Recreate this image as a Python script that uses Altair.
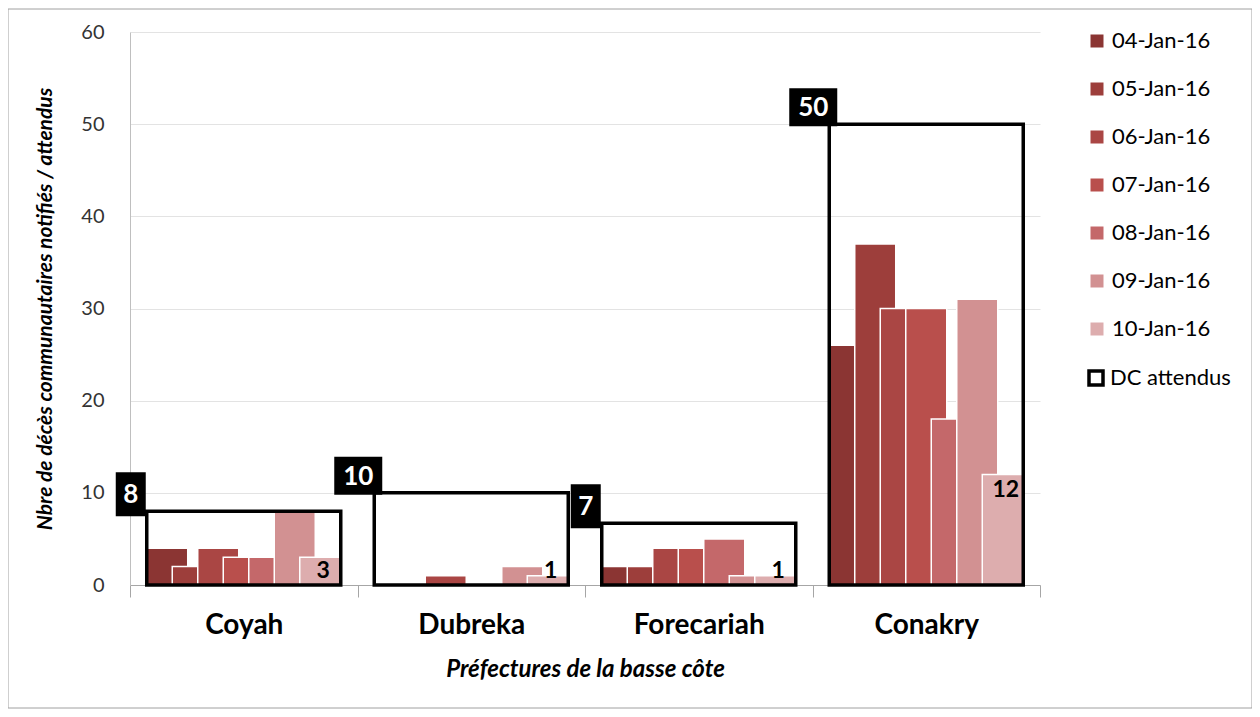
import altair as alt
import pandas as pd

categories = ["Coyah", "Dubreka", "Forecariah", "Conakry"]
dates = ["04-Jan-16", "05-Jan-16", "06-Jan-16", "07-Jan-16", "08-Jan-16", "09-Jan-16", "10-Jan-16"]
colors = ["#8B3533", "#9D3E3B", "#AA4644", "#B94F4C", "#C4686A", "#D29192", "#DDADAE"]

coyah = [4, 2, 4, 3, 3, 8, 3]
dubreka = [0, 0, 1, 0, 0, 2, 1]
forecariah = [2, 2, 4, 4, 5, 1, 1]
conakry = [26, 37, 30, 30, 18, 31, 12]
expected = [8, 10, 6.7, 50]
expected_labels = ["8", "10", "7", "50"]

series = [coyah, dubreka, forecariah, conakry]
rows = []
for cat, vals in zip(categories, series):
    for d, v in zip(dates, vals):
        rows.append({"cat": cat, "date": d, "value": v})
bars_df = pd.DataFrame(rows)
exp_df = pd.DataFrame({"cat": categories, "expected": expected,
                       "lab": expected_labels, "key": ["DC attendus"] * 4})

FONT = "Lato"
xscale = alt.Scale(domain=categories, paddingInner=0, paddingOuter=0)
yscale = alt.Scale(domain=[0, 60])
xoff = alt.XOffset("date:N", scale=alt.Scale(domain=dates, paddingInner=0, paddingOuter=0.96))

x_enc = alt.X("cat:N", scale=xscale, sort=categories,
              axis=alt.Axis(title="Préfectures de la basse côte", tickBand="extent",
                            labelAngle=0, labelFontSize=28, labelFontWeight="bold",
                            labelColor="#000000", labelPadding=14, tickSize=12,
                            tickColor="#a6a6a6", domainColor="#a6a6a6",
                            titleFontSize=24, titleFontStyle="italic", titleFontWeight="bold",
                            titleColor="#000000", titlePadding=18, grid=False))
y_enc = alt.Y("value:Q", scale=yscale,
              axis=alt.Axis(title="Nbre de décès communautaires notifiés / attendus",
                            values=[0, 10, 20, 30, 40, 50, 60], ticks=False,
                            labelFontSize=20, labelColor="#333333", labelPadding=26,
                            domainColor="#bfbfbf", gridColor="#e3e3e3",
                            titleFontSize=21, titleFontStyle="italic", titleFontWeight="bold",
                            titleColor="#000000", titlePadding=25))

frame = alt.Chart(pd.DataFrame({"a": [0]})).mark_rect(
    fill="transparent", stroke="#a0a0a0", strokeWidth=1
).encode(x=alt.value(-122), x2=alt.value(1122), y=alt.value(-23), y2=alt.value(676))

bars = alt.Chart(bars_df).mark_bar(width=41, stroke="white", strokeWidth=1.5).encode(
    x=x_enc,
    xOffset=xoff,
    y=y_enc,
    color=alt.Color("date:N", scale=alt.Scale(domain=dates, range=colors),
                    legend=alt.Legend(title=None, orient="none", legendX=956, legendY=-2,
                                      symbolType="square", symbolSize=169,
                                      symbolStrokeWidth=0, labelFontSize=22,
                                      labelColor="#000000", rowPadding=26,
                                      labelOffset=4)),
)

boxes = alt.Chart(exp_df).mark_bar(width=194, fill="transparent", strokeWidth=3.5).encode(
    x=alt.X("cat:N", scale=xscale, sort=categories),
    y=alt.Y("expected:Q", scale=yscale),
    stroke=alt.Stroke("key:N", scale=alt.Scale(domain=["DC attendus"], range=["black"]),
                      legend=alt.Legend(title=None, orient="none", legendX=955, legendY=335,
                                        symbolType="square", symbolSize=196,
                                        symbolStrokeWidth=3.5, symbolFillColor="white",
                                        labelFontSize=22, labelColor="#000000",
                                        labelOffset=3)),
)

tag_bg = alt.Chart(exp_df).transform_calculate(
    w="length(datum.lab) > 1 ? 'wide' : 'narrow'"
).mark_point(filled=True, color="black", size=1600, strokeWidth=0,
             xOffset=-113, yOffset=-17, opacity=1).encode(
    x=alt.X("cat:N", scale=xscale, sort=categories),
    y=alt.Y("expected:Q", scale=yscale),
    shape=alt.Shape("w:N", scale=alt.Scale(
        domain=["narrow", "wide"],
        range=["M-0.75,-1.1L0.75,-1.1L0.75,1.1L-0.75,1.1Z",
               "M-1.2,-0.95L1.2,-0.95L1.2,0.95L-1.2,0.95Z"]), legend=None),
)

tag_txt = alt.Chart(exp_df).mark_text(
    color="white", fontSize=26, fontWeight="bold", font=FONT,
    xOffset=-113, yOffset=-16, baseline="middle", align="center"
).encode(
    x=alt.X("cat:N", scale=xscale, sort=categories),
    y=alt.Y("expected:Q", scale=yscale),
    text="lab:N",
)

val_txt = alt.Chart(bars_df).transform_filter(
    alt.datum.date == dates[-1]
).transform_calculate(
    ly="max(datum.value, 3.3)"
).mark_text(
    color="black", fontSize=23, fontWeight="bold", font=FONT,
    baseline="middle", align="center", dx=3, dy=16
).encode(
    x=alt.X("cat:N", scale=xscale, sort=categories),
    xOffset=xoff,
    y=alt.Y("ly:Q", scale=yscale),
    text="value:Q",
)

chart = alt.layer(frame, bars, boxes, tag_bg, tag_txt, val_txt).resolve_scale(
    color="independent", stroke="independent", shape="independent"
).properties(
    width=910, height=553,
    autosize=alt.AutoSizeParams(type="none"),
    padding={"left": 122, "top": 24, "right": 212, "bottom": 124},
).configure(
    font=FONT,
).configure_view(stroke=None)

chart.save("out.html", embed_options={"renderer": "svg", "actions": False})
